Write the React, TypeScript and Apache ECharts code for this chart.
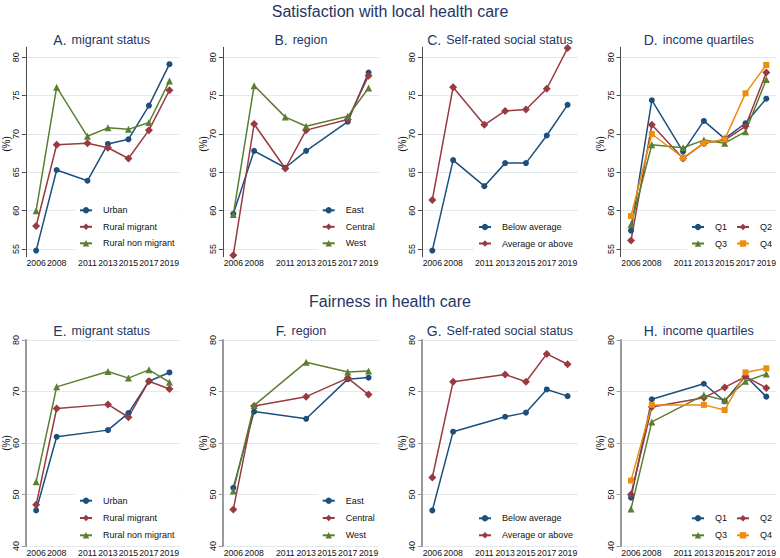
import { useEffect, useRef } from 'react';
import * as echarts from 'echarts';

// ---------- data ----------
const xTickYears = [2006, 2008, 2011, 2013, 2015, 2017, 2019];
const topYTicks = [55, 60, 65, 70, 75, 80];

const yearsA = [2006, 2008, 2011, 2013, 2015, 2017, 2019];
const yearsB = [2006, 2008, 2011, 2013, 2017, 2019];
const yearsC = [2006, 2008, 2011, 2013, 2015, 2017, 2019];
const yearsD = [2006, 2008, 2011, 2013, 2015, 2017, 2019];
const yearsE = [2006, 2008, 2013, 2015, 2017, 2019];
const yearsF = [2006, 2008, 2013, 2017, 2019];
const yearsG = [2006, 2008, 2013, 2015, 2017, 2019];
const yearsH = [2006, 2008, 2013, 2015, 2017, 2019];

// Satisfaction with local health care
const urbanA = [54.8, 65.3, 63.9, 68.7, 69.3, 73.7, 79.1];
const ruralMigrantA = [58.0, 68.6, 68.8, 68.2, 66.8, 70.5, 75.7];
const ruralNonMigrantA = [60.0, 76.1, 69.7, 70.8, 70.6, 71.5, 76.9];

const eastB = [59.6, 67.8, 65.6, 67.8, 71.6, 78.0];
const centralB = [54.2, 71.3, 65.5, 70.5, 71.9, 77.6];
const westB = [59.5, 76.3, 72.2, 71.0, 72.3, 76.0];

const belowC = [54.8, 66.6, 63.2, 66.2, 66.2, 69.8, 73.8];
const aboveC = [61.4, 76.1, 71.2, 73.0, 73.2, 75.9, 81.2];

const q1D = [57.4, 74.4, 67.7, 71.7, 69.4, 71.4, 74.6];
const q2D = [56.1, 71.2, 66.8, 68.8, 69.2, 71.0, 78.0];
const q3D = [58.2, 68.6, 68.2, 69.2, 68.8, 70.3, 77.1];
const q4D = [59.3, 70.0, 66.9, 68.8, 69.3, 75.3, 79.0];

// Fairness in health care
const urbanE = [46.9, 61.2, 62.5, 65.8, 72.0, 73.7];
const ruralMigrantE = [48.0, 66.7, 67.5, 65.0, 72.0, 70.5];
const ruralNonMigrantE = [52.5, 70.9, 73.9, 72.6, 74.2, 71.8];

const eastF = [51.3, 66.1, 64.7, 72.4, 72.7];
const centralF = [47.1, 67.2, 69.0, 72.6, 69.4];
const westF = [50.7, 67.3, 75.7, 73.8, 74.0];

const belowG = [46.9, 62.2, 65.1, 65.9, 70.4, 69.1];
const aboveG = [53.3, 71.9, 73.3, 71.9, 77.3, 75.3];

const q1H = [49.4, 68.5, 71.5, 68.1, 73.0, 69.0];
const q2H = [50.0, 67.0, 68.8, 70.8, 72.9, 70.7];
const q3H = [47.2, 64.1, 69.3, 68.3, 72.0, 73.4];
const q4H = [52.7, 67.4, 67.4, 66.4, 73.7, 74.5];

// ---------- styling ----------
const FONT = '"Liberation Sans", Arial, sans-serif';
const TITLE_COLOR = '#243665';
const TEXT_COLOR = '#111111';
const GRID_COLOR = '#e2eaee';
const C1 = '#1d4f7c';
const C2 = '#983a40';
const C3 = '#5a7f30';
const C4 = '#ee8c0e';

const SYM = [
  { symbol: 'circle', size: 6, color: C1 },
  { symbol: 'diamond', size: 8, color: C2 },
  { symbol: 'triangle', size: 7, color: C3 },
  { symbol: 'rect', size: 6, color: C4 },
];

const gridLefts = [23.6, 222.9, 421.9, 620.6];
const gridWidth = 156.1;

export default function App() {
  const ref = useRef<HTMLDivElement>(null);

  useEffect(() => {
    if (!ref.current) return;
    const chart = echarts.init(ref.current, undefined, { renderer: 'svg' });

    const panels = [
      { letter: 'A.', title: 'migrant status', years: yearsA, names: ['Urban', 'Rural migrant', 'Rural non migrant'], vals: [urbanA, ruralMigrantA, ruralNonMigrantA] },
      { letter: 'B.', title: 'region', years: yearsB, names: ['East', 'Central', 'West'], vals: [eastB, centralB, westB] },
      { letter: 'C.', title: 'Self-rated social status', years: yearsC, names: ['Below average', 'Average or above'], vals: [belowC, aboveC] },
      { letter: 'D.', title: 'income quartiles', years: yearsD, names: ['Q1', 'Q2', 'Q3', 'Q4'], vals: [q1D, q2D, q3D, q4D] },
      { letter: 'E.', title: 'migrant status', years: yearsE, names: ['Urban', 'Rural migrant', 'Rural non migrant'], vals: [urbanE, ruralMigrantE, ruralNonMigrantE] },
      { letter: 'F.', title: 'region', years: yearsF, names: ['East', 'Central', 'West'], vals: [eastF, centralF, westF] },
      { letter: 'G.', title: 'Self-rated social status', years: yearsG, names: ['Below average', 'Average or above'], vals: [belowG, aboveG] },
      { letter: 'H.', title: 'income quartiles', years: yearsH, names: ['Q1', 'Q2', 'Q3', 'Q4'], vals: [q1H, q2H, q3H, q4H] },
    ];

    const grids: any[] = [];
    const xAxes: any[] = [];
    const yAxes: any[] = [];
    const series: any[] = [];
    const titles: any[] = [
      { text: 'Satisfaction with local health care', left: 390, top: 3, textAlign: 'center', padding: 0, textStyle: { fontSize: 16, fontWeight: 'normal', color: TITLE_COLOR, fontFamily: FONT } },
      { text: 'Fairness in health care', left: 390, top: 293, textAlign: 'center', padding: 0, textStyle: { fontSize: 16, fontWeight: 'normal', color: TITLE_COLOR, fontFamily: FONT } },
    ];
    const legends: any[] = [];

    const legendBase = {
      orient: 'vertical',
      selectedMode: false,
      itemWidth: 12,
      itemHeight: 8,
      backgroundColor: '#ffffff',
      padding: [2, 4, 2, 4],
      textStyle: { fontSize: 9, color: TEXT_COLOR, fontFamily: FONT, lineHeight: 10, padding: [0, 0, 0, 6] },
    };

    panels.forEach((p, i) => {
      const top = i < 4;
      const col = i % 4;
      const left = gridLefts[col];
      grids.push(
        top
          ? { left, width: gridWidth, top: 47.3, height: 209.4 }
          : { left, width: gridWidth, top: 340, height: 206 }
      );
      xAxes.push({
        type: 'value',
        gridIndex: i,
        min: 2005,
        max: 2020,
        axisLine: { show: false },
        axisTick: { show: false },
        splitLine: { show: false },
        axisLabel: {
          customValues: xTickYears,
          showMinLabel: true,
          showMaxLabel: true,
          hideOverlap: false,
          formatter: (v: number) => String(v),
          fontSize: 8.7,
          color: TEXT_COLOR,
          fontFamily: FONT,
          margin: 2,
        },
      });
      if (top) {
        yAxes.push({
          type: 'value',
          gridIndex: i,
          min: 54,
          max: 81.3,
          name: '(%)',
          nameLocation: 'middle',
          nameGap: 13,
          nameTextStyle: { fontSize: 10, color: TEXT_COLOR, fontFamily: FONT, padding: [0, 0, 0, 16] },
          axisLine: { show: true, lineStyle: { color: '#4a4a4a', width: 1 } },
          axisTick: { show: true, length: 4, customValues: topYTicks, lineStyle: { color: '#4a4a4a' } },
          axisLabel: { customValues: topYTicks, rotate: 90, fontSize: 9, color: TEXT_COLOR, fontFamily: FONT, margin: 5 },
          splitLine: { show: true, lineStyle: { color: GRID_COLOR, width: 1 } },
        });
      } else {
        yAxes.push({
          type: 'value',
          gridIndex: i,
          min: 40,
          max: 80,
          interval: 10,
          name: '(%)',
          nameLocation: 'middle',
          nameGap: 13,
          nameTextStyle: { fontSize: 10, color: TEXT_COLOR, fontFamily: FONT },
          axisLine: { show: true, lineStyle: { color: '#9a9a9a', width: 2 } },
          axisTick: { show: true, length: 4, lineStyle: { color: '#9a9a9a' } },
          axisLabel: { rotate: 90, fontSize: 9, color: TEXT_COLOR, fontFamily: FONT, margin: 5 },
          splitLine: { show: true, lineStyle: { color: GRID_COLOR, width: 1 } },
        });
      }

      titles.push({
        text: `{h|${p.letter}} {t|${p.title}}`,
        left: left + gridWidth / 2,
        top: top ? 31 : 322,
        textAlign: 'center',
        padding: 0,
        textStyle: {
          fontWeight: 'normal',
          rich: {
            h: { fontSize: 14, fontWeight: 'normal', color: TITLE_COLOR, fontFamily: FONT },
            t: { fontSize: 12.5, fontWeight: 'normal', color: TITLE_COLOR, fontFamily: FONT },
          },
        },
      });

      p.names.forEach((name, k) => {
        const s = SYM[k];
        series.push({
          type: 'line',
          name,
          xAxisIndex: i,
          yAxisIndex: i,
          data: p.years.map((yr, j) => [yr, p.vals[k][j]]),
          symbol: s.symbol,
          symbolSize: s.size,
          showAllSymbol: true,
          color: s.color,
          itemStyle: { color: s.color },
          lineStyle: { color: s.color, width: 1.5 },
        });
      });

      // legends
      if (col === 0 || col === 1) {
        const iconX = col === 0 ? 79 : 321.7;
        const firstRow = top ? 210.3 : 500.7;
        const gap = top ? 6.5 : 7.3;
        legends.push({ ...legendBase, data: p.names, left: iconX - 4, top: firstRow - 5 - 2, itemGap: gap });
      } else if (col === 2) {
        const firstRow = top ? 227 : 518.3;
        const gap = top ? 6.5 : 7;
        legends.push({ ...legendBase, data: p.names, left: 478 - 4, top: firstRow - 5 - 2, itemGap: gap });
      } else {
        const r1 = top ? 227 : 518.3;
        const r2 = top ? 243.5 : 535.3;
        legends.push({ ...legendBase, orient: 'horizontal', itemGap: 9, data: ['Q1', 'Q2'], left: 691 - 4, top: r1 - 5 - 2 });
        legends.push({ ...legendBase, orient: 'horizontal', itemGap: 9, data: ['Q3', 'Q4'], left: 691 - 4, top: r2 - 5 - 2 });
      }
    });

    chart.setOption({
      animation: false,
      backgroundColor: '#ffffff',
      textStyle: { fontFamily: FONT },
      title: titles,
      grid: grids,
      xAxis: xAxes,
      yAxis: yAxes,
      legend: legends,
      series,
    });

    return () => chart.dispose();
  }, []);

  return <div ref={ref} style={{ width: 780, height: 558, position: 'absolute', left: 0, top: 0 }} />;
}
